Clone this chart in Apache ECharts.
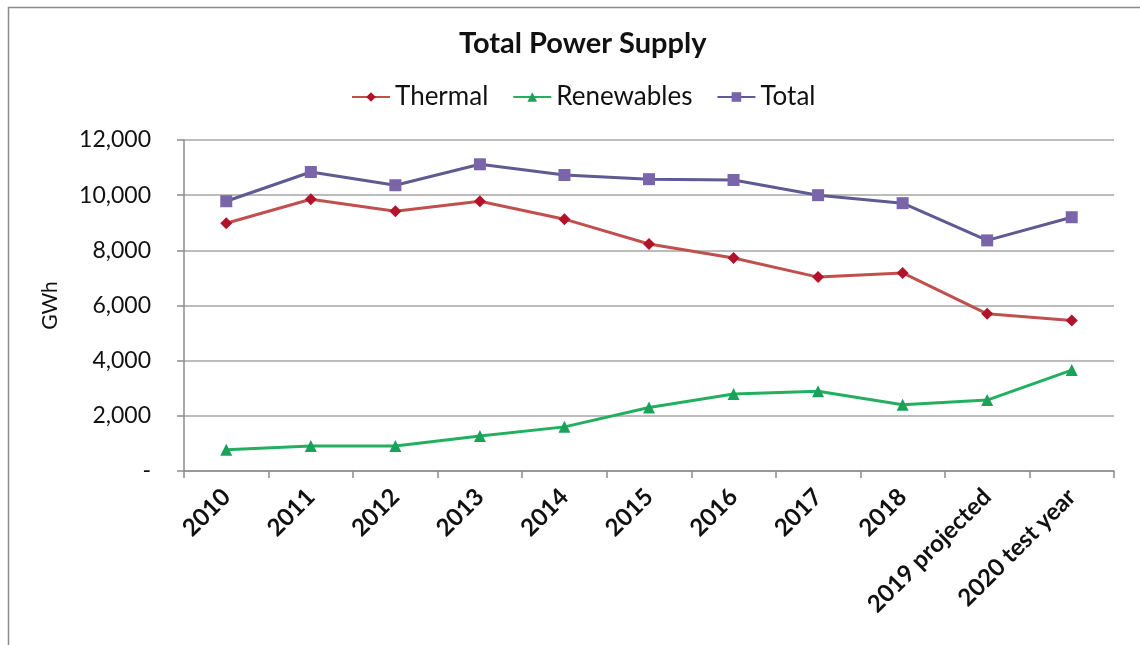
<!DOCTYPE html>
<html>
<head>
<meta charset="utf-8">
<script src="https://cdn.jsdelivr.net/npm/echarts@6/dist/echarts.min.js"></script>
<style>
html,body{margin:0;padding:0;background:#fff;}
#chart{width:1140px;height:645px;}
</style>
</head>
<body>
<div id="chart"></div>
<script>
var categories = ['2010','2011','2012','2013','2014','2015','2016','2017','2018','2019 projected','2020 test year'];
var thermal = [8980, 9850, 9420, 9780, 9130, 8230, 7720, 7030, 7180, 5700, 5460];
var renewables = [770, 910, 910, 1270, 1600, 2300, 2790, 2890, 2400, 2570, 3660];
var total = [9780, 10840, 10360, 11120, 10730, 10580, 10550, 10000, 9710, 8360, 9200];
var yTicks = {min: 0, max: 12000, interval: 2000};

var font = 'Lato, "Open Sans", sans-serif';
var chart = echarts.init(document.getElementById('chart'));
chart.setOption({
  backgroundColor: '#fff',
  animation: false,
  graphic: [{
    type: 'rect', left: 6, top: 5, shape: {width: 1200, height: 700},
    style: {fill: 'none', stroke: '#8c8c8c', lineWidth: 1.5}, z: -1
  }],
  title: {
    text: 'Total Power Supply', left: 454, top: 24,
    textStyle: {fontFamily: font, fontSize: 29, fontWeight: 'bold', color: '#111'}
  },
  legend: {
    top: 79, left: 346, itemGap: 24, itemWidth: 38, itemHeight: 12,
    textStyle: {fontFamily: font, fontSize: 26, color: '#111'},
    data: ['Thermal', 'Renewables', 'Total']
  },
  grid: {left: 184, right: 26, top: 140, bottom: 174},
  xAxis: {
    type: 'category', data: categories, boundaryGap: true,
    axisLine: {lineStyle: {color: '#8c8c8c', width: 1.5}},
    axisTick: {show: true, length: 7, lineStyle: {color: '#8c8c8c', width: 1.5}},
    axisLabel: {rotate: 45, interval: 0, fontFamily: font, fontSize: 24, fontWeight: 'bold', color: '#111', margin: 22}
  },
  yAxis: {
    type: 'value', min: yTicks.min, max: yTicks.max, interval: yTicks.interval,
    name: 'GWh', nameLocation: 'middle', nameGap: 123, nameRotate: 90,
    nameTextStyle: {fontFamily: font, fontSize: 21, color: '#111'},
    axisLine: {show: true, lineStyle: {color: '#8c8c8c', width: 1.5}},
    axisTick: {show: true, length: 7, lineStyle: {color: '#8c8c8c', width: 1.5}},
    splitLine: {lineStyle: {color: '#a6a6a6', width: 1.5}},
    axisLabel: {
      fontFamily: font, fontSize: 23, color: '#111', margin: 33,
      formatter: function (v) { return v === 0 ? '-' : v.toLocaleString('en-US'); }
    }
  },
  series: [
    {name: 'Thermal', type: 'line', data: thermal, symbol: 'diamond', symbolSize: 12,
     itemStyle: {color: '#b3132a'}, lineStyle: {color: '#c0504d', width: 3}},
    {name: 'Renewables', type: 'line', data: renewables, symbol: 'triangle', symbolSize: 12,
     itemStyle: {color: '#1aa25a'}, lineStyle: {color: '#22b060', width: 3}},
    {name: 'Total', type: 'line', data: total, symbol: 'rect', symbolSize: 12,
     itemStyle: {color: '#7a64aa'}, lineStyle: {color: '#5e5a92', width: 3}}
  ]
});
</script>
</body>
</html>
